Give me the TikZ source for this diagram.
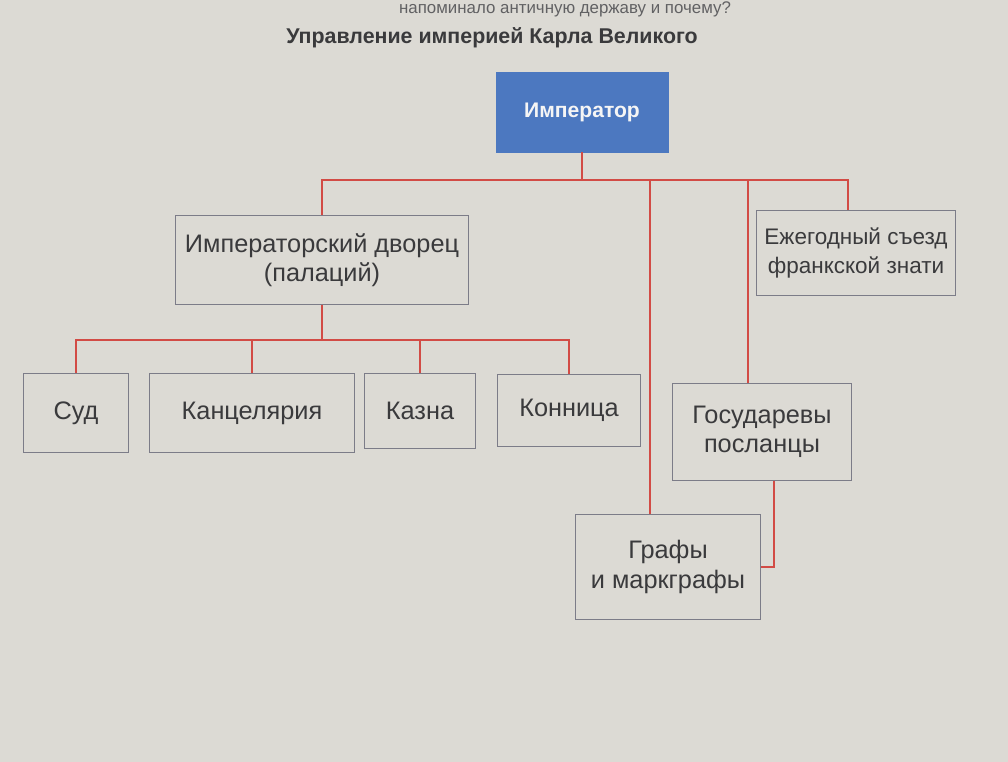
\documentclass[tikz,border=0pt]{standalone}
\usepackage{fontspec}
\setmainfont{Liberation Sans}
\usetikzlibrary{positioning}

\definecolor{paper}{HTML}{DCDAD4}
\definecolor{lineRed}{HTML}{D24B45}
\definecolor{boxGray}{HTML}{7C7C88}
\definecolor{inkGray}{HTML}{3A3A3C}
\definecolor{empBlue}{HTML}{4C78C0}

\begin{document}
\begin{tikzpicture}[
  x=0.025cm, y=-0.025cm,
  unit/.style={rectangle, draw=boxGray, line width=0.7pt, fill=paper,
               align=center, text=inkGray, font=\fontsize{18}{21}\selectfont,
               inner sep=2pt},
  head/.style={rectangle, fill=empBlue, draw=empBlue, text=white!92!gray,
               align=center, font=\fontsize{15}{18}\selectfont\bfseries},
  link/.style={draw=lineRed, line width=1pt},
]
% ---- фон ----
\useasboundingbox[fill=paper] (0,0) rectangle (1008,762);

% ---- заголовок ----
\node[text=inkGray!80, font=\fontsize{12}{14}\selectfont] (question) at (565,9)
     {напоминало античную державу и почему?};
\node[text=inkGray, font=\fontsize{15.2}{17}\selectfont\bfseries] (title) at (492,38)
     {Управление империей Карла Великого};

% ---- верхний уровень ----
\node[head, minimum width=4.3cm, minimum height=2.0cm] (emperor) at (582,112)
     {Император};

\node[unit, minimum width=7.3cm, minimum height=2.2cm] (palace) at (322,260)
     {Императорский дворец\\(палаций)};
\node[unit, minimum width=4.95cm, minimum height=2.1cm,
      font=\fontsize{16}{20}\selectfont] (congress) at (856,253)
     {Ежегодный съезд\\франкской знати};
\node[unit, minimum width=4.45cm, minimum height=2.4cm] (envoys) at (762,432)
     {Государевы\\посланцы};
\node[unit, minimum width=4.6cm, minimum height=2.6cm] (counts) at (668,567)
     {Графы\\и маркграфы};

% ---- службы палация ----
\node[unit, minimum width=2.6cm, minimum height=1.95cm] (court)    at (76,413)  {Суд};
\node[unit, minimum width=5.1cm, minimum height=1.95cm] (chancery) at (252,413) {Канцелярия};
\node[unit, minimum width=2.75cm, minimum height=1.85cm] (treasury) at (420,411) {Казна};
\node[unit, minimum width=3.55cm, minimum height=1.8cm] (cavalry)  at (569,410) {Конница};

% ---- связи ----
\coordinate (hub) at (582,180);
\draw[link] (emperor.south) -- (hub);
\draw[link] (hub) -| (palace.north);
\draw[link] (hub) -| ([xshift=-0.45cm]counts.north);
\draw[link] (hub) -| ([xshift=-0.35cm]envoys.north);
\draw[link] (hub) -| ([xshift=-0.2cm]congress.north);
\draw[link] ([xshift=0.3cm]envoys.south) |- (counts.east);

\coordinate (hubPal) at (322,340);
\draw[link] (palace.south) -- (hubPal);
\draw[link] (hubPal) -| (court.north);
\draw[link] (hubPal) -| (chancery.north);
\draw[link] (hubPal) -| (treasury.north);
\draw[link] (hubPal) -| (cavalry.north);

\end{tikzpicture}
\end{document}
